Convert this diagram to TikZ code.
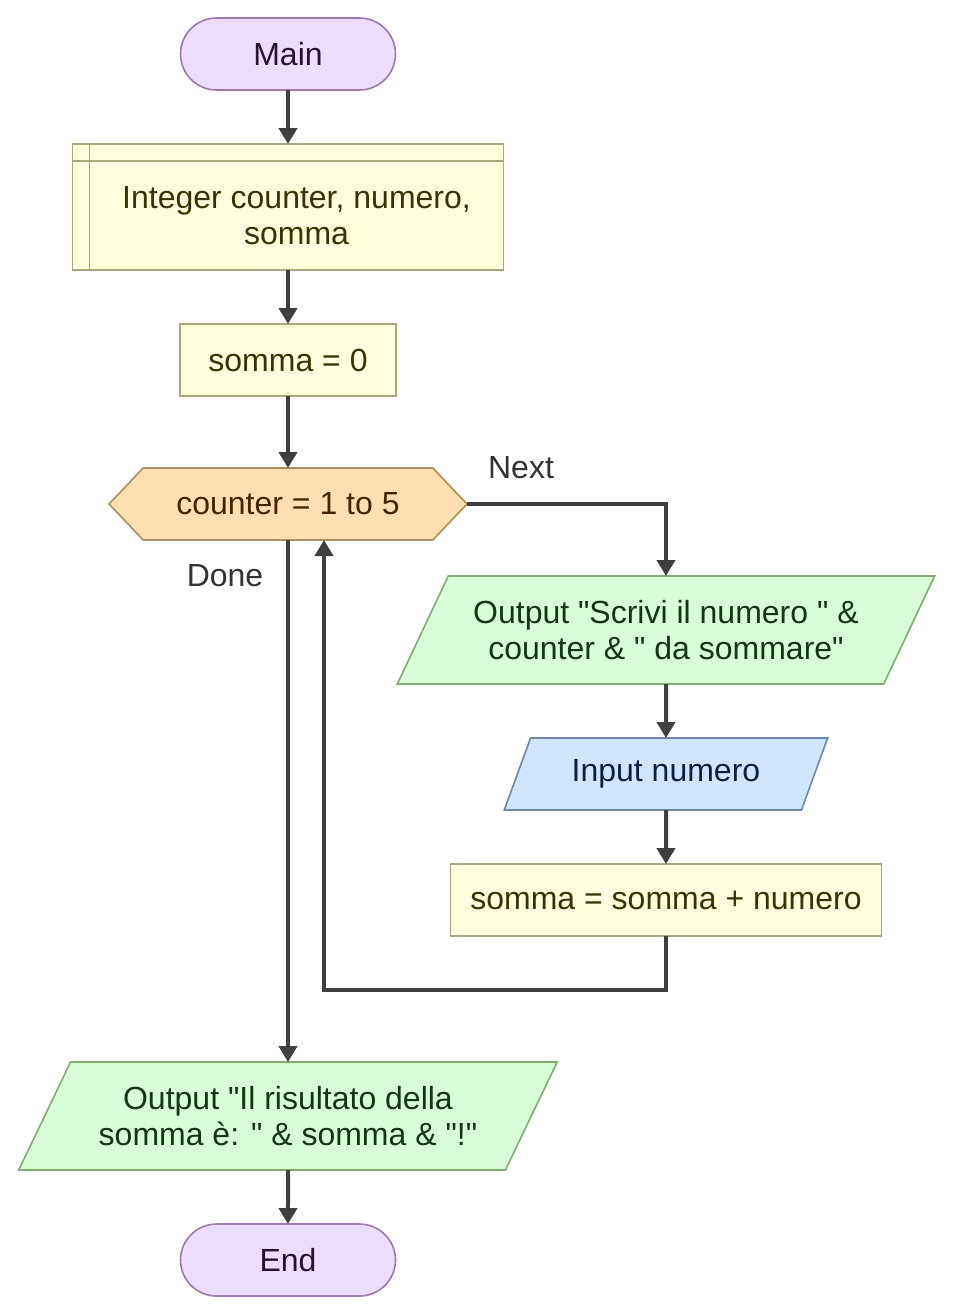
\documentclass[tikz,border=0pt]{standalone}
\usepackage{fontspec}
\setmainfont{Liberation Sans}[Ligatures=TeXOff]
\usetikzlibrary{positioning,shapes.geometric,shapes.symbols,arrows.meta}

\definecolor{termfill}{HTML}{ECDDFC}
\definecolor{termdraw}{HTML}{9E79AE}
\definecolor{termtext}{HTML}{2B0F3B}
\definecolor{procfill}{HTML}{FFFFDD}
\definecolor{procdraw}{HTML}{A9A87A}
\definecolor{proctext}{HTML}{3A3300}
\definecolor{loopfill}{HTML}{FFDFB0}
\definecolor{loopdraw}{HTML}{AD8F5E}
\definecolor{looptext}{HTML}{472300}
\definecolor{outfill}{HTML}{D9FDD9}
\definecolor{outdraw}{HTML}{82AB72}
\definecolor{outtext}{HTML}{0E3A0E}
\definecolor{infill}{HTML}{D1E6FE}
\definecolor{indraw}{HTML}{6D87A8}
\definecolor{intext}{HTML}{0E1F44}
\definecolor{linegray}{HTML}{404040}

\tikzstyle{terminal} = [rectangle, rounded corners=27pt, minimum width=161.25pt, minimum height=54pt, outer sep=0pt, draw=termdraw, fill=termfill, text=termtext, line width=1.2pt]
\tikzstyle{process} = [rectangle, minimum height=54pt, outer sep=0pt, draw=procdraw, fill=procfill, text=proctext, line width=1.2pt]
\tikzstyle{loopbox} = [signal, signal to=west and east, signal pointer angle=93, minimum width=268.5pt, minimum height=54pt, outer sep=0pt, draw=loopdraw, fill=loopfill, text=looptext, line width=1.2pt]
\tikzstyle{outbox} = [trapezium, trapezium left angle=56, trapezium right angle=124, trapezium stretches=true, minimum width=404.25pt, minimum height=81pt, outer sep=0pt, align=center, draw=outdraw, fill=outfill, text=outtext, line width=1.2pt]
\tikzstyle{inbox} = [trapezium, trapezium left angle=63, trapezium right angle=117, trapezium stretches=true, minimum width=243pt, minimum height=54pt, outer sep=0pt, draw=indraw, fill=infill, text=intext, line width=1.2pt]
\tikzstyle{lbl} = [text=black!80]
\tikzstyle{arrow} = [line width=3pt, draw=linegray, -{Triangle[length=12pt,width=13.5pt]}]

\begin{document}
\begin{tikzpicture}[node distance=40.5pt, font=\fontsize{24}{27}\selectfont]

	\useasboundingbox (0,0) rectangle (716.25pt,-986.25pt);

	\node (main)[terminal] at (216pt,-40.5pt) {Main};

	\node (decl)[process, minimum width=323.25pt, minimum height=94.5pt, below=of main] {};
	\draw[procdraw, line width=1.2pt] ([xshift=12.75pt]decl.north west) -- ([xshift=12.75pt]decl.south west);
	\draw[procdraw, line width=1.2pt] ([yshift=-12.75pt]decl.north west) -- ([yshift=-12.75pt]decl.north east);
	\node (decltext)[text=proctext, align=center] at ([xshift=6.4pt,yshift=-6.4pt]decl.center) {Integer counter, numero,\\somma};

	\node (init)[process, minimum width=162pt, below=of decl] {somma = 0};

	\node (loop)[loopbox, below=54pt of init] {counter = 1 to 5};

	\node (outnum)[outbox, below=27pt of loop, xshift=283.5pt] {Output "Scrivi il numero " \&\\counter \& " da sommare"};

	\node (innum)[inbox, below=of outnum] {Input numero};

	\node (add)[process, minimum width=323.25pt, below=of innum] {somma = somma + numero};

	\node (outsum)[outbox, below=391.5pt of loop] {Output "Il risultato della\\somma è: " \& somma \& "!"};

	\node (stop)[terminal, below=of outsum] {End};

	\node (nextlbl)[lbl] at ([xshift=40.5pt,yshift=27pt]loop.east) {Next};
	\node (donelbl)[lbl] at ([xshift=-47.25pt,yshift=-27pt]loop.south) {Done};

	\draw [arrow] (main) -- (decl);
	\draw [arrow] (decl) -- (init);
	\draw [arrow] (init) -- (loop);

	\draw [arrow] (loop.east) -| (outnum.north);
	\draw [arrow] (outnum) -- (innum);
	\draw [arrow] (innum) -- (add);
	\draw [arrow] (add.south) -- ++(0,-40.5pt) -| ([xshift=27pt]loop.south);

	\draw [arrow] (loop.south) -- (outsum.north);
	\draw [arrow] (outsum) -- (stop);

\end{tikzpicture}
\end{document}
